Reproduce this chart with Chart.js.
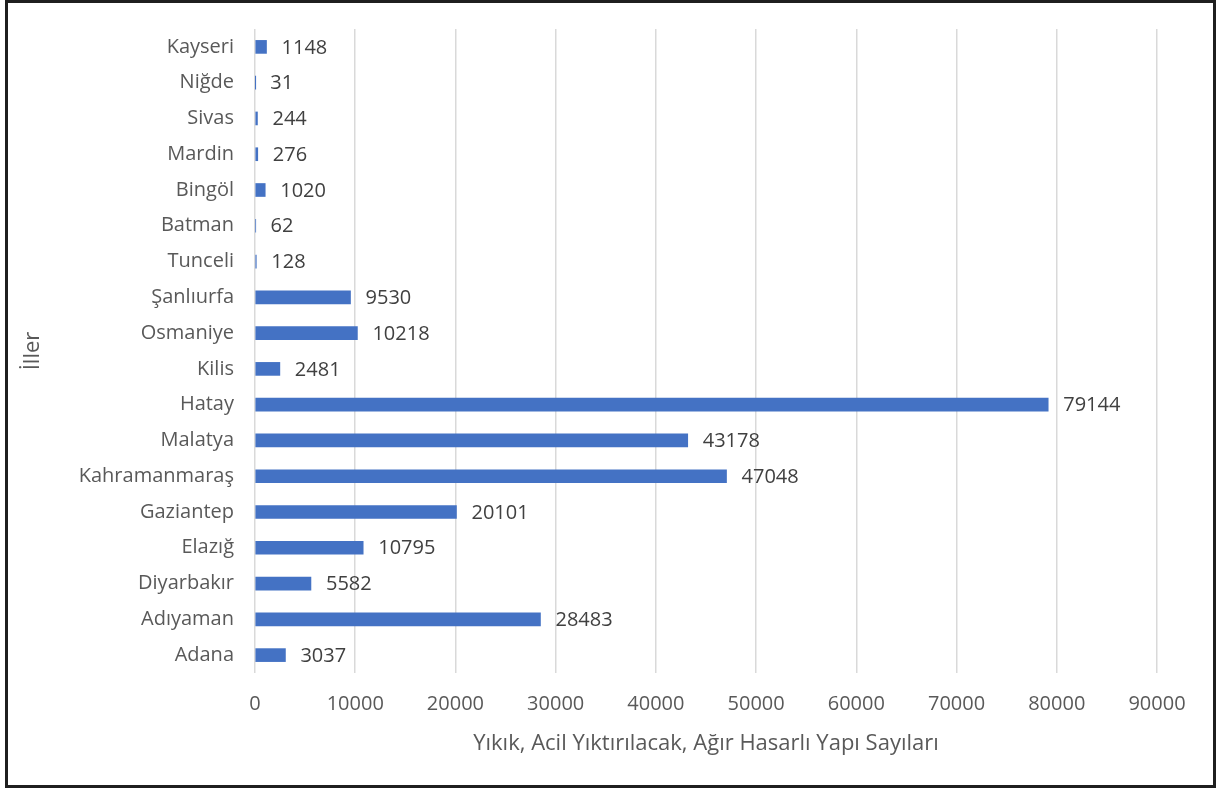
<!DOCTYPE html>
<html lang="tr">
<head>
<meta charset="utf-8">
<title>İller - Yapı Sayıları</title>
<script src="https://cdn.jsdelivr.net/npm/chart.js@4.4.1/dist/chart.umd.min.js"></script>
<style>
  html, body { margin: 0; padding: 0; background: #fff; }
  #wrap { position: relative; width: 1217px; height: 791px; }
  #frame { position: absolute; left: 5px; top: 0px; width: 1205px; height: 782px; border: 3px solid #1f1f1f; pointer-events: none; }
</style>
</head>
<body>
<div id="wrap">
  <canvas id="chart" width="1217" height="791"></canvas>
  <div id="frame"></div>
</div>
<script>
  // Data (bottom to top, as in the sheet)
  const cities = ['Adana','Adıyaman','Diyarbakır','Elazığ','Gaziantep','Kahramanmaraş','Malatya','Hatay','Kilis',
                  'Osmaniye','Şanlıurfa','Tunceli','Batman','Bingöl','Mardin','Sivas','Niğde','Kayseri'];
  const buildings = [3037, 28483, 5582, 10795, 20101, 47048, 43178, 79144, 2481,
                     10218, 9530, 128, 62, 1020, 276, 244, 31, 1148];
  const xTicks = [0, 10000, 20000, 30000, 40000, 50000, 60000, 70000, 80000, 90000];

  const FONT = '"Open Sans", "Noto Sans", sans-serif';

  // value labels at the end of each bar
  const valueLabels = {
    id: 'valueLabels',
    afterDatasetsDraw(chart) {
      const ctx = chart.ctx;
      const meta = chart.getDatasetMeta(0);
      ctx.save();
      ctx.font = '20px ' + FONT;
      ctx.fillStyle = '#404040';
      ctx.textAlign = 'left';
      ctx.textBaseline = 'middle';
      meta.data.forEach((bar, i) => {
        ctx.fillText(String(buildings[i]), bar.x + 15, bar.y + 1);
      });
      ctx.restore();
    }
  };

  new Chart(document.getElementById('chart'), {
    type: 'bar',
    data: { labels: cities, datasets: [{ data: buildings, backgroundColor: '#4472c4', barThickness: 13 }] },
    options: {
      indexAxis: 'y',
      responsive: false,
      animation: false,
      layout: { padding: { top: 29, right: 60, left: 0, bottom: 0 } },
      plugins: { legend: { display: false }, tooltip: { enabled: false } },
      scales: {
        x: {
          min: 0, max: 90000,
          afterBuildTicks: (s) => { s.ticks = xTicks.map(v => ({ value: v })); },
          afterFit: (s) => { s.height = 118; },
          grid: { color: '#d9d9d9', lineWidth: 1.5, drawTicks: false },
          border: { display: false },
          ticks: { padding: 19, color: '#595959', font: { family: FONT, size: 20 }, callback: (v) => String(v) },
          title: { display: true, text: 'Yıkık, Acil Yıktırılacak, Ağır Hasarlı Yapı Sayıları',
                   color: '#595959', font: { family: FONT, size: 22 }, padding: { top: 0, bottom: 34 } }
        },
        y: {
          reverse: true,
          afterFit: (s) => { s.width = 255; },
          grid: { display: false },
          border: { display: false },
          ticks: { padding: 13, color: '#595959', font: { family: FONT, size: 20 } },
          title: { display: true, text: 'İller', color: '#595959',
                   font: { family: FONT, size: 22 }, padding: { top: 20, bottom: 0 } }
        }
      }
    },
    plugins: [valueLabels]
  });
</script>
</body>
</html>
